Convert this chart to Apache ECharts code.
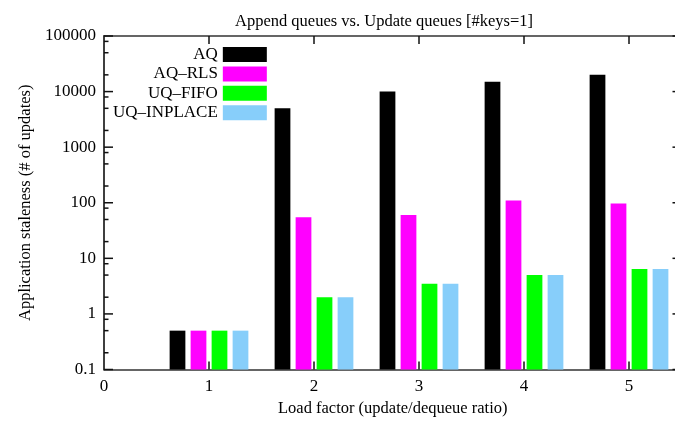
<!DOCTYPE html>
<html>
<head>
<meta charset="utf-8">
<script src="https://cdn.jsdelivr.net/npm/echarts@6/dist/echarts.min.js"></script>
<style>html,body{margin:0;padding:0;background:#fff;}#c{width:675px;height:421px;}</style>
</head>
<body>
<div id="c"></div>
<script>
const categories = [1, 2, 3, 4, 5];
const seriesNames = ['AQ', 'AQ–RLS', 'UQ–FIFO', 'UQ–INPLACE'];
const aq = [0.5, 5000, 10000, 15000, 20000];
const aqRls = [0.5, 55, 60, 110, 97];
const uqFifo = [0.5, 2, 3.5, 5, 6.4];
const uqInplace = [0.5, 2, 3.5, 5, 6.4];
const xTickLabels = [0, 1, 2, 3, 4, 5];
const yTickLabels = [0.1, 1, 10, 100, 1000, 10000, 100000];
const yMinorTicks = [0.2, 0.5, 0.8, 2, 5, 8, 20, 50, 80, 200, 500, 800, 2000, 5000, 8000, 20000, 50000, 80000];

const colors = ['#000000', '#ff00ff', '#00ff00', '#87cefa'];
const offsets = [-0.3, -0.1, 0.1, 0.3];
const barHalf = 0.075;
const X_MIN = 0, X_MAX = 5.5;
const Y_MIN = yTickLabels[0], Y_MAX = yTickLabels[yTickLabels.length - 1];
const FONT = 'Liberation Serif';
const allValues = [aq, aqRls, uqFifo, uqInplace];
const TICK_COLOR = '#111';

const chart = echarts.init(document.getElementById('c'), null, {renderer: 'canvas'});

function barRenderer(idx) {
  return function (params, api) {
    const x = api.value(0) + offsets[idx];
    const v = api.value(1);
    const p1 = api.coord([x - barHalf, v]);
    const p2 = api.coord([x + barHalf, Y_MIN]);
    return {
      type: 'rect',
      shape: {x: p1[0], y: p1[1], width: p2[0] - p1[0], height: p2[1] - p1[1]},
      style: {fill: colors[idx]}
    };
  };
}

const barSeries = seriesNames.map((name, i) => ({
  name: name,
  type: 'custom',
  xAxisIndex: 0,
  yAxisIndex: 0,
  itemStyle: {color: colors[i]},
  renderItem: barRenderer(i),
  data: categories.map((c, k) => [c, allValues[i][k]]),
  z: 2
}));

function tickLine(x1, y1, x2, y2) {
  return {
    type: 'line',
    shape: {x1: x1, y1: y1, x2: x2, y2: y2},
    style: {stroke: TICK_COLOR, lineWidth: 1.5, fill: null}
  };
}

// y ticks (left: major + minor, right: major), drawn inward
function yTickSeries(values, len, bothSides) {
  return {
    type: 'custom', xAxisIndex: 0, yAxisIndex: 0, silent: true, clip: false, z: 10,
    dimensions: ['x', 'y'],
    encode: {x: 0, y: 1},
    renderItem: function (params, api) {
      const v = api.value(1);
      const pl = api.coord([X_MIN, v]);
      const pr = api.coord([X_MAX, v]);
      const children = [tickLine(pl[0], pl[1], pl[0] + len, pl[1])];
      if (bothSides) children.push(tickLine(pr[0], pr[1], pr[0] - len, pr[1]));
      return {type: 'group', children: children};
    },
    data: values.map(v => [X_MIN, v])
  };
}

const xTickSeries = {
  type: 'custom', xAxisIndex: 0, yAxisIndex: 0, silent: true, clip: false, z: 10,
  dimensions: ['x', 'y'],
  encode: {x: 0, y: 1},
  renderItem: function (params, api) {
    const x = api.value(0);
    const pb = api.coord([x, Y_MIN]);
    const pt = api.coord([x, Y_MAX]);
    return {
      type: 'group', children: [
        tickLine(pb[0], pb[1], pb[0], pb[1] - 8),
        tickLine(pt[0], pt[1], pt[0], pt[1] + 8)
      ]
    };
  },
  data: xTickLabels.filter(v => v > X_MIN).map(v => [v, Y_MIN])
};

const axisLineStyle = {color: '#333', width: 1.5};

const option = {
  animation: false,
  backgroundColor: '#fff',
  title: {
    text: 'Append queues vs. Update queues [#keys=1]',
    left: 379,
    top: 8,
    textAlign: 'center',
    textStyle: {fontFamily: FONT, fontSize: 16.5, fontWeight: 'normal', color: '#000'}
  },
  legend: {
    orient: 'vertical',
    left: 113,
    top: 46,
    align: 'right',
    itemWidth: 44,
    itemHeight: 15,
    itemGap: 2.4,
    padding: 0,
    icon: 'rect',
    data: seriesNames,
    textStyle: {fontFamily: FONT, fontSize: 17, color: '#000'}
  },
  grid: {left: 104, top: 36, width: 577.5, height: 333.5, containLabel: false, outerBoundsMode: 'none'},
  xAxis: [
    {
      type: 'value', position: 'bottom', min: X_MIN, max: X_MAX, interval: 1,
      name: 'Load factor (update/dequeue ratio)', nameLocation: 'middle', nameGap: 30,
      nameTextStyle: {fontFamily: FONT, fontSize: 16.5, color: '#000'},
      axisLine: {show: true, lineStyle: axisLineStyle},
      axisTick: {show: false},
      axisLabel: {
        fontFamily: FONT, fontSize: 17, color: '#000', margin: 9,
        formatter: v => (xTickLabels.indexOf(v) >= 0 ? String(v) : '')
      },
      splitLine: {show: false}
    },
    {
      type: 'value', position: 'top', min: X_MIN, max: X_MAX, interval: 1,
      axisLine: {show: true, lineStyle: axisLineStyle},
      axisTick: {show: false},
      axisLabel: {show: false},
      splitLine: {show: false}
    }
  ],
  yAxis: [
    {
      type: 'log', logBase: 10, position: 'left', min: Y_MIN, max: Y_MAX,
      name: 'Application staleness (# of updates)', nameLocation: 'middle', nameGap: 70,
      nameTextStyle: {fontFamily: FONT, fontSize: 16.5, color: '#000'},
      axisLine: {show: true, lineStyle: axisLineStyle},
      axisTick: {show: false},
      axisLabel: {
        fontFamily: FONT, fontSize: 17, color: '#000', margin: 8,
        formatter: v => {
          const m = yTickLabels.find(t => Math.abs(Math.log10(t) - Math.log10(v)) < 1e-6);
          return m !== undefined ? String(m) : '';
        }
      },
      splitLine: {show: false}
    },
    {
      type: 'log', logBase: 10, position: 'right', min: Y_MIN, max: Y_MAX,
      axisLine: {show: true, lineStyle: axisLineStyle},
      axisTick: {show: false},
      axisLabel: {show: false},
      splitLine: {show: false}
    }
  ],
  series: barSeries.concat([
    yTickSeries(yTickLabels, 9, true),
    yTickSeries(yMinorTicks, 4.5, false),
    xTickSeries
  ])
};
chart.setOption(option);
</script>
</body>
</html>
